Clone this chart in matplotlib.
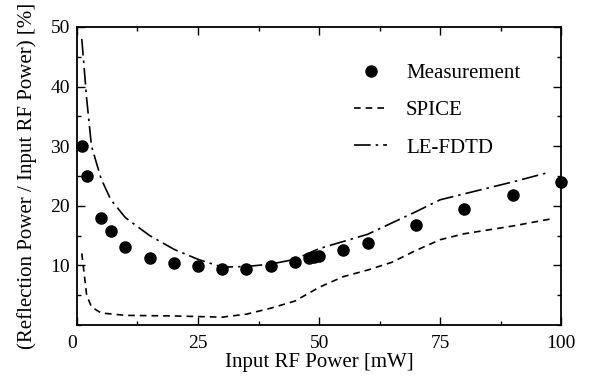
import matplotlib
matplotlib.use('Agg')
import matplotlib.pyplot as plt
from matplotlib.ticker import MultipleLocator

plt.rcParams['font.family'] = ['Liberation Serif', 'DejaVu Serif']

# Measurement points
meas_x = [1, 2, 5, 7, 10, 15, 20, 25, 30, 35, 40, 45, 48, 49, 50, 55, 60, 70, 80, 90, 100]
meas_y = [30.0, 25.0, 18.0, 15.7, 13.0, 11.3, 10.4, 9.9, 9.3, 9.4, 9.9, 10.6, 11.2, 11.4, 11.6,
          12.6, 13.8, 16.7, 19.5, 21.8, 24.0]

# SPICE simulation
spice_x = [1, 2, 3, 5, 10, 20, 30, 35, 40, 45, 50, 55, 60, 65, 70, 75, 80, 90, 98]
spice_y = [12.0, 5.0, 3.0, 2.0, 1.6, 1.5, 1.3, 1.8, 2.8, 4.0, 6.3, 8.1, 9.2, 10.5, 12.5, 14.3,
           15.3, 16.6, 17.8]

# LE-FDTD simulation
fdtd_x = [1, 2, 3, 5, 7, 10, 15, 20, 25, 30, 35, 40, 45, 50, 55, 60, 70, 75, 80, 90, 97]
fdtd_y = [48.0, 38.0, 30.0, 24.5, 21.0, 18.0, 15.0, 12.7, 11.0, 9.7, 9.8, 10.2, 11.0, 12.8,
          14.0, 15.2, 19.0, 21.0, 22.0, 24.0, 25.5]

x_ticks = [0, 25, 50, 75, 100]
y_ticks = [10, 20, 30, 40, 50]

fig = plt.figure(figsize=(5.92, 3.8), dpi=100)
ax = fig.add_axes([0.130, 0.145, 0.818, 0.784])

ax.plot(meas_x, meas_y, 'o', color='black', markersize=8, label='Measurement', clip_on=False, zorder=5)
ax.plot(spice_x, spice_y, color='black', linewidth=1.2, linestyle=(0, (4, 3)), label='SPICE')
ax.plot(fdtd_x, fdtd_y, color='black', linewidth=1.2, linestyle=(0, (10, 3, 1.5, 3)), label='LE-FDTD')

ax.set_xlim(0, 100)
ax.set_ylim(0, 50)
ax.set_xticks(x_ticks)
ax.set_xticklabels([str(t) for t in x_ticks])
ax.set_yticks(y_ticks)
ax.set_yticklabels([str(t) for t in y_ticks])
ax.xaxis.set_minor_locator(MultipleLocator(12.5))
ax.yaxis.set_minor_locator(MultipleLocator(5))
ax.tick_params(which='both', direction='in', top=True, right=True, labelsize=14, width=1)
ax.tick_params(which='major', length=6)
ax.tick_params(which='minor', length=3)
ax.tick_params(axis='x', pad=7)
ax.tick_params(axis='y', pad=5)
# corner "0" sits left of the origin
ax.get_xticklabels()[0].set_horizontalalignment('right')
for s in ax.spines.values():
    s.set_linewidth(1.3)

ax.set_xlabel('Input RF Power [mW]', fontsize=15, labelpad=1)
ax.set_ylabel('(Reflection Power / Input RF Power) [%]', fontsize=15, labelpad=10)

ax.legend(loc='upper right', bbox_to_anchor=(0.954, 0.94), frameon=False, fontsize=15,
          handlelength=1.6, labelspacing=0.85, handletextpad=0.9)

fig.savefig('out.png', dpi=100)
